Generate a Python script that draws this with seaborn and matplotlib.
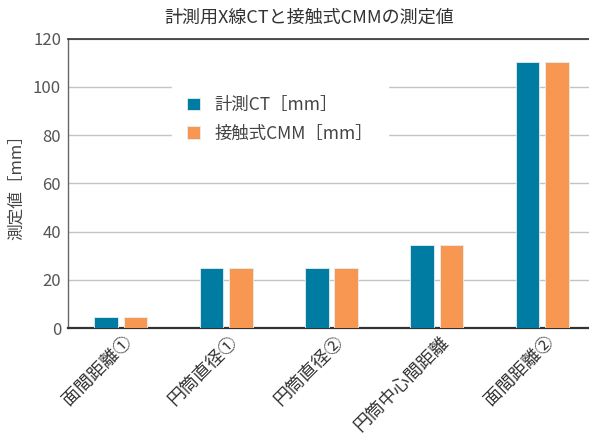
import pandas as pd
import seaborn as sns
import matplotlib.pyplot as plt
from matplotlib.transforms import ScaledTranslation

# categories and values
categories = ['面間距離①', '円筒直径①', '円筒直径②', '円筒中心間距離', '面間距離②']
ct_values = [4.6, 25.0, 25.0, 34.4, 110.4]
cmm_values = [4.6, 25.0, 25.0, 34.4, 110.4]
series_names = ['計測CT［mm］', '接触式CMM［mm］']
yticks = [0, 20, 40, 60, 80, 100, 120]

df = pd.DataFrame({
    'item': categories * 2,
    'value': ct_values + cmm_values,
    'series': [series_names[0]] * len(categories) + [series_names[1]] * len(categories),
})

sns.set_style('white')
plt.rcParams['font.family'] = ['Noto Sans CJK JP', 'DejaVu Sans']

fig = plt.figure(figsize=(5.89, 4.38), dpi=100)
ax = fig.add_axes([68 / 589, 1 - 328.3 / 438, 527 / 589, 289.8 / 438])

sns.barplot(data=df, x='item', y='value', hue='series', ax=ax,
            palette=['#007ca3', '#f79751'], saturation=1, width=0.56, gap=0.2,
            edgecolor='#e8eef0', linewidth=0.6, zorder=3)

ax.set_xlim(-0.5, 4.5)
ax.set_ylim(0, 120)
ax.set_yticks(yticks)
ax.yaxis.grid(True, color='#c4c4c4', linewidth=1, zorder=0)
ax.set_axisbelow(True)
ax.tick_params(axis='y', length=0, labelsize=12, labelcolor='#555555', pad=5)
ax.tick_params(axis='x', length=0, labelsize=13, labelcolor='#333333', pad=8)
# shift the rotated labels a little to the right, like the reference
shift = ScaledTranslation(9 / 100, 0, fig.dpi_scale_trans)
for lab in ax.get_xticklabels():
    lab.set_rotation(45)
    lab.set_ha('right')
    lab.set_va('center')
    lab.set_rotation_mode('anchor')
    lab.set_transform(lab.get_transform() + shift)

ax.set_xlabel('')
ax.set_ylabel('測定値［mm］', fontsize=12, color='#444444', labelpad=6)

ax.spines['right'].set_visible(False)
ax.spines['top'].set_color('#333333')
ax.spines['top'].set_linewidth(1.2)
ax.spines['bottom'].set_color('#333333')
ax.spines['bottom'].set_linewidth(1.6)
ax.spines['left'].set_color('#666666')
ax.spines['left'].set_linewidth(1.0)

leg = ax.legend(loc='upper left', bbox_to_anchor=(0.18, 0.885), frameon=True,
                fontsize=12.5, handlelength=0.75, handleheight=0.75,
                handletextpad=0.8, labelspacing=0.6, borderpad=0.9)
leg.get_frame().set_facecolor('white')
leg.get_frame().set_edgecolor('white')
leg.get_frame().set_alpha(1)
for t in leg.get_texts():
    t.set_color('#444444')

fig.text(0.525, 1 - 18 / 438, '計測用X線CTと接触式CMMの測定値', ha='center', va='center',
         fontsize=13, color='#333333')

fig.savefig('out.png', dpi=100)
